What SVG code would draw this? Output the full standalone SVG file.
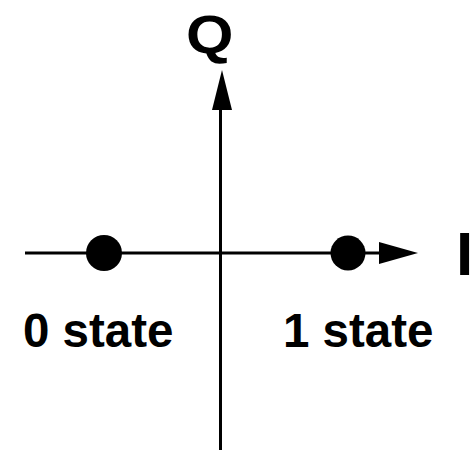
<svg xmlns="http://www.w3.org/2000/svg" width="470" height="450" viewBox="0 0 470 450">
<style>
.ax{stroke:#000;stroke-width:3;fill:none}
.lbl{font-family:"Liberation Sans",Arial,sans-serif;font-weight:bold;fill:#000}
</style>
<rect width="470" height="450" fill="#fff"/>
<g id="connectors">
<line class="ax" x1="25" y1="253" x2="382" y2="253"/>
<polygon points="379,242 418,253 379,264" fill="#000"/>
<line class="ax" x1="220.5" y1="107" x2="220.5" y2="450"/>
<polygon points="212,110 222,70 232,110" fill="#000"/>
</g>
<g id="state0">
<circle cx="104" cy="253" r="18" fill="#000"/>
<text class="lbl" x="23" y="347" font-size="47.5">0 state</text>
</g>
<g id="state1">
<circle cx="348" cy="253" r="17.5" fill="#000"/>
<text class="lbl" x="283" y="347" font-size="47.5">1 state</text>
</g>
<g id="axisQ">
<text class="lbl" transform="translate(186,53) scale(1.13,1)" x="0" y="0" font-size="54">Q</text>
</g>
<g id="axisI">
<text class="lbl" x="456" y="275" font-size="62">I</text>
</g>
</svg>
